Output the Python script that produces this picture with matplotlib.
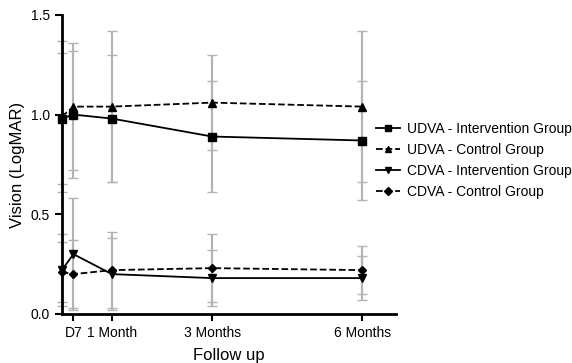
import numpy as np
import matplotlib.pyplot as plt

plt.rcParams['font.family'] = ['Liberation Sans', 'DejaVu Sans']

days = [0, 7, 30, 90, 180]
tick_pos = [7, 30, 90, 180]
tick_labels = ['D7', '1 Month', '3 Months', '6 Months']

udva_int = [0.98, 1.00, 0.98, 0.89, 0.87]
udva_int_err = [0.33, 0.32, 0.32, 0.28, 0.30]
udva_ctl = [0.99, 1.04, 1.04, 1.06, 1.04]
udva_ctl_err = [0.38, 0.32, 0.38, 0.24, 0.38]
cdva_int = [0.22, 0.30, 0.20, 0.18, 0.18]
cdva_int_err = [0.18, 0.28, 0.18, 0.14, 0.11]
cdva_ctl = [0.21, 0.20, 0.22, 0.23, 0.22]
cdva_ctl_err = [0.15, 0.17, 0.19, 0.17, 0.12]

fig = plt.figure(figsize=(5.72, 3.63), dpi=100)
ax = fig.add_axes([0.108, 0.135, 0.584, 0.824])

series = [
    ('UDVA - Intervention Group', udva_int, udva_int_err, 's', '-'),
    ('UDVA - Control Group', udva_ctl, udva_ctl_err, '^', '--'),
    ('CDVA - Intervention Group', cdva_int, cdva_int_err, 'v', '-'),
    ('CDVA - Control Group', cdva_ctl, cdva_ctl_err, 'D', '--'),
]

for label, vals, err, mk, ls in series:
    ax.errorbar(days, vals, yerr=err, fmt='none', ecolor='#b3b3b3',
                elinewidth=1.5, capsize=3.5, capthick=1.0, clip_on=False, zorder=2)
    ms = 4 if mk == 'D' else 5.5
    ax.plot(days, vals, color='black', linestyle=ls, linewidth=1.3,
            marker=mk, markersize=ms, label=label, clip_on=False, zorder=3)

ax.set_xlim(0, 200)
ax.set_ylim(0, 1.5)
ax.set_yticks([0.0, 0.5, 1.0, 1.5])
ax.set_yticklabels(['0.0', '0.5', '1.0', '1.5'])
ax.set_xticks(tick_pos)
ax.set_xticklabels(tick_labels)
ax.spines['top'].set_visible(False)
ax.spines['right'].set_visible(False)
ax.spines['left'].set_linewidth(2)
ax.spines['bottom'].set_linewidth(2)
ax.tick_params(axis='both', direction='out', width=1.5, length=5, labelsize=10)
ax.set_ylabel('Vision (LogMAR)', fontsize=12)
ax.set_xlabel('Follow up', fontsize=12, labelpad=6)

leg = fig.legend(loc='center left', bbox_to_anchor=(376 / 572, 0.558), frameon=False,
                 fontsize=10, handlelength=1.7, handletextpad=0.5, labelspacing=0.5,
                 borderpad=0, borderaxespad=0)
for h in leg.legend_handles:
    h.set_markersize(4.5)

fig.savefig('out.png', dpi=100)
